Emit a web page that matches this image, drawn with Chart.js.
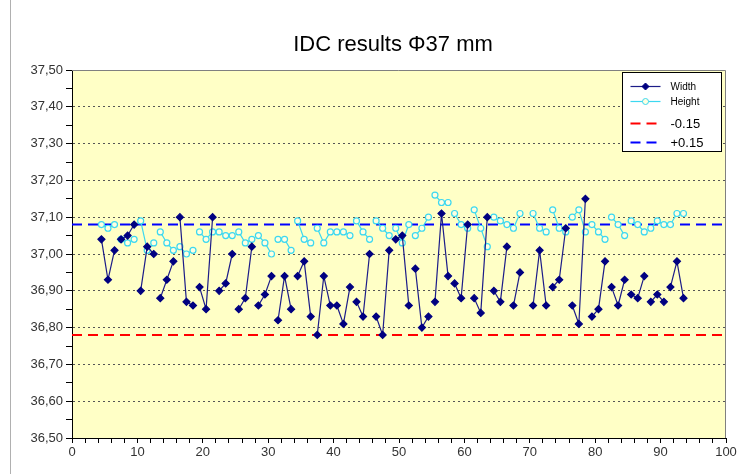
<!DOCTYPE html>
<html>
<head>
<meta charset="utf-8">
<title>IDC results</title>
<script src="https://cdn.jsdelivr.net/npm/chart.js@4.4.1/dist/chart.umd.min.js"></script>
<style>
  html, body { margin: 0; padding: 0; background: #fff; }
</style>
</head>
<body>
<canvas id="myChart" width="748" height="474"></canvas>
<script>
// chart data
let chartTitle = 'IDC results Φ37 mm';
let seriesNames = ['Width', 'Height', '-0.15', '+0.15'];

// one value per sample, samples come in groups of 3 (line breaks between groups)
let groupSize = 3;
let firstSample = 4.5;
let widthValues = [
  37.04, 36.93, 37.01, 37.04, 37.05, 37.08, 36.90, 37.02, 37.00,
  36.88, 36.93, 36.98, 37.10, 36.87, 36.86, 36.91, 36.85, 37.10,
  36.90, 36.92, 37.00, 36.85, 36.88, 37.02, 36.86, 36.89, 36.94,
  36.82, 36.94, 36.85, 36.94, 36.98, 36.83, 36.78, 36.94, 36.86,
  36.86, 36.81, 36.91, 36.87, 36.83, 37.00, 36.83, 36.78, 37.01,
  37.04, 37.05, 36.86, 36.96, 36.80, 36.83, 36.87, 37.11, 36.94,
  36.92, 36.88, 37.08, 36.88, 36.84, 37.10, 36.90, 36.87, 37.02,
  36.86, 36.95, null, 36.86, 37.01, 36.86, 36.91, 36.93, 37.07,
  36.86, 36.81, 37.15, 36.83, 36.85, 36.98, 36.91, 36.86, 36.93,
  36.89, 36.88, 36.94, 36.87, 36.89, 36.87, 36.91, 36.98, 36.88
];
let heightValues = [
  37.08, 37.07, 37.08, 37.04, 37.03, 37.04, 37.09, 37.01, 37.03,
  37.06, 37.03, 37.01, 37.02, 37.00, 37.01, 37.06, 37.04, 37.06,
  37.06, 37.05, 37.05, 37.06, 37.03, 37.04, 37.05, 37.03, 37.00,
  37.04, 37.04, 37.01, 37.09, 37.04, 37.03, 37.07, 37.03, 37.06,
  37.06, 37.06, 37.05, 37.09, 37.06, 37.04, 37.09, 37.07, 37.05,
  37.07, 37.03, 37.08, 37.05, 37.07, 37.10, 37.16, 37.14, 37.14,
  37.11, 37.08, 37.07, 37.12, 37.07, 37.02, 37.10, 37.09, 37.08,
  37.07, 37.11, null, 37.11, 37.07, 37.06, 37.12, 37.07, 37.06,
  37.10, 37.12, 37.06, 37.08, 37.06, 37.04, 37.10, 37.08, 37.05,
  37.09, 37.08, 37.06, 37.07, 37.09, 37.08, 37.08, 37.11, 37.11
];
let lowerLimit = 36.78;
let upperLimit = 37.08;

// axes
let xMin = 0, xMax = 100, xMajor = 10, xMinor = 2;
let yMin = 36.5, yMax = 37.5, yMinor = 0.05;
let yMajorTicks = [36.5, 36.6, 36.7, 36.8, 36.9, 37.0, 37.1, 37.2, 37.3, 37.4, 37.5];

let samples = [];
for (let i = 0; i < widthValues.length; i++) {
  samples.push(firstSample + i);
}

function toPoints(values) {
  return samples.map((x, i) => ({ x: x, y: values[i] }));
}

function isMajorY(v) {
  return yMajorTicks.some(t => Math.abs(t - v) < 1e-6);
}

// hide the segment that joins two groups
function groupColor(color) {
  return ctx => (ctx.p1DataIndex % groupSize === 0 ? 'rgba(0,0,0,0)' : color);
}

let axisFont = { family: "'Liberation Sans Narrow', 'Arial Narrow', 'Liberation Sans', Arial", size: 13 };

let plotBackground = {
  id: 'plotBackground',
  beforeDraw(chart) {
    let ctx = chart.ctx;
    let a = chart.chartArea;
    ctx.save();
    ctx.fillStyle = '#ffffc6';
    ctx.fillRect(a.left, a.top, a.right - a.left, a.bottom - a.top);
    // outer frame line on the left
    ctx.strokeStyle = '#b0b0b0';
    ctx.lineWidth = 1;
    ctx.beginPath();
    ctx.moveTo(10.5, 0);
    ctx.lineTo(10.5, chart.height);
    ctx.stroke();
    // title
    ctx.fillStyle = '#000';
    ctx.font = "22px 'Liberation Sans', Arial";
    ctx.textAlign = 'center';
    ctx.textBaseline = 'middle';
    ctx.fillText(chartTitle, 393, 45);
    ctx.restore();
  },
  afterDraw(chart) {
    let ctx = chart.ctx;
    let a = chart.chartArea;
    ctx.save();
    ctx.strokeStyle = '#808080';
    ctx.lineWidth = 1;
    ctx.beginPath();
    ctx.moveTo(a.left, a.top + 0.5);
    ctx.lineTo(a.right - 0.5, a.top + 0.5);
    ctx.lineTo(a.right - 0.5, a.bottom);
    ctx.stroke();

    // legend box in the top right corner of the plot
    let x0 = a.right - 103.5;
    let y0 = a.top + 2.5;
    ctx.fillStyle = '#fff';
    ctx.fillRect(x0, y0, 99, 79);
    ctx.strokeStyle = '#000';
    ctx.strokeRect(x0, y0, 99, 79);
    let rowY = [14, 29, 51, 70];
    let rowFont = [10, 10, 13, 13];
    chart.data.datasets.forEach((ds, i) => {
      let y = y0 + rowY[i];
      ctx.save();
      ctx.strokeStyle = ds.borderColor;
      ctx.lineWidth = ds.borderWidth;
      ctx.setLineDash(ds.borderDash || []);
      ctx.beginPath();
      ctx.moveTo(x0 + 8, y);
      ctx.lineTo(x0 + 38, y);
      ctx.stroke();
      ctx.setLineDash([]);
      if (ds.pointRadius > 0) {
        let r = ds.pointRadius;
        let cx = x0 + 23;
        ctx.fillStyle = ds.pointBackgroundColor;
        ctx.strokeStyle = ds.pointBorderColor;
        ctx.lineWidth = 1;
        ctx.beginPath();
        if (ds.pointStyle === 'rectRot') {
          ctx.moveTo(cx, y - r);
          ctx.lineTo(cx + r, y);
          ctx.lineTo(cx, y + r);
          ctx.lineTo(cx - r, y);
          ctx.closePath();
        } else {
          ctx.arc(cx, y, r, 0, Math.PI * 2);
        }
        ctx.fill();
        ctx.stroke();
      }
      ctx.fillStyle = '#000';
      ctx.font = rowFont[i] + "px 'Liberation Sans', Arial";
      ctx.textAlign = 'left';
      ctx.textBaseline = 'middle';
      ctx.fillText(ds.label, x0 + 48, y + 1);
      ctx.restore();
    });
    ctx.restore();
  }
};

function chartRender() {
  let ctx = document.getElementById('myChart').getContext('2d');
  let myChart = new Chart(ctx, {
    type: 'line',
    data: {
      datasets: [{
        label: seriesNames[0],
        data: toPoints(widthValues),
        borderColor: '#1c1c88',
        borderWidth: 1.2,
        segment: { borderColor: groupColor('#1c1c88') },
        pointStyle: 'rectRot',
        pointRadius: 3.5,
        pointBackgroundColor: '#000080',
        pointBorderColor: '#000080',
        order: 1
      }, {
        label: seriesNames[1],
        data: toPoints(heightValues),
        borderColor: '#3cd8f0',
        borderWidth: 1.2,
        segment: { borderColor: groupColor('#3cd8f0') },
        pointStyle: 'circle',
        pointRadius: 3,
        pointBackgroundColor: '#ffffe0',
        pointBorderColor: '#3cd8f0',
        order: 2
      }, {
        label: seriesNames[2],
        data: [{ x: xMin, y: lowerLimit }, { x: xMax, y: lowerLimit }],
        borderColor: '#ff0000',
        borderWidth: 2,
        borderDash: [10, 6],
        pointRadius: 0,
        order: 3
      }, {
        label: seriesNames[3],
        data: [{ x: xMin, y: upperLimit }, { x: xMax, y: upperLimit }],
        borderColor: '#0000ff',
        borderWidth: 2,
        borderDash: [10, 6],
        pointRadius: 0,
        order: 4
      }]
    },
    options: {
      responsive: false,
      animation: false,
      spanGaps: false,
      layout: { padding: { top: 70, right: 22, left: 0, bottom: 0 } },
      plugins: {
        legend: { display: false },
        title: { display: false },
        tooltip: { enabled: false }
      },
      scales: {
        x: {
          type: 'linear',
          min: xMin,
          max: xMax,
          afterFit: scale => { scale.height = 36; },
          ticks: {
            stepSize: xMinor,
            autoSkip: false,
            maxRotation: 0,
            padding: 2,
            color: '#333',
            font: axisFont,
            callback: v => (v % xMajor === 0 ? String(v) : '')
          },
          grid: {
            drawOnChartArea: false,
            tickLength: 5,
            tickColor: '#000'
          },
          border: { color: '#000', width: 1 }
        },
        y: {
          min: yMin,
          max: yMax,
          afterFit: scale => { scale.width = 72; },
          ticks: {
            stepSize: yMinor,
            autoSkip: false,
            padding: 3,
            color: '#333',
            font: axisFont,
            callback: v => (isMajorY(v) ? v.toFixed(2).replace('.', ',') : '')
          },
          grid: {
            color: c => (c.tick && isMajorY(c.tick.value) && c.tick.value > yMin && c.tick.value < yMax ? '#555' : 'rgba(0,0,0,0)'),
            lineWidth: 1,
            tickLength: 6,
            tickColor: '#000'
          },
          border: { color: '#000', width: 1, dash: [2, 3] }
        }
      }
    },
    plugins: [plotBackground]
  });
}
chartRender();
</script>
</body>
</html>
